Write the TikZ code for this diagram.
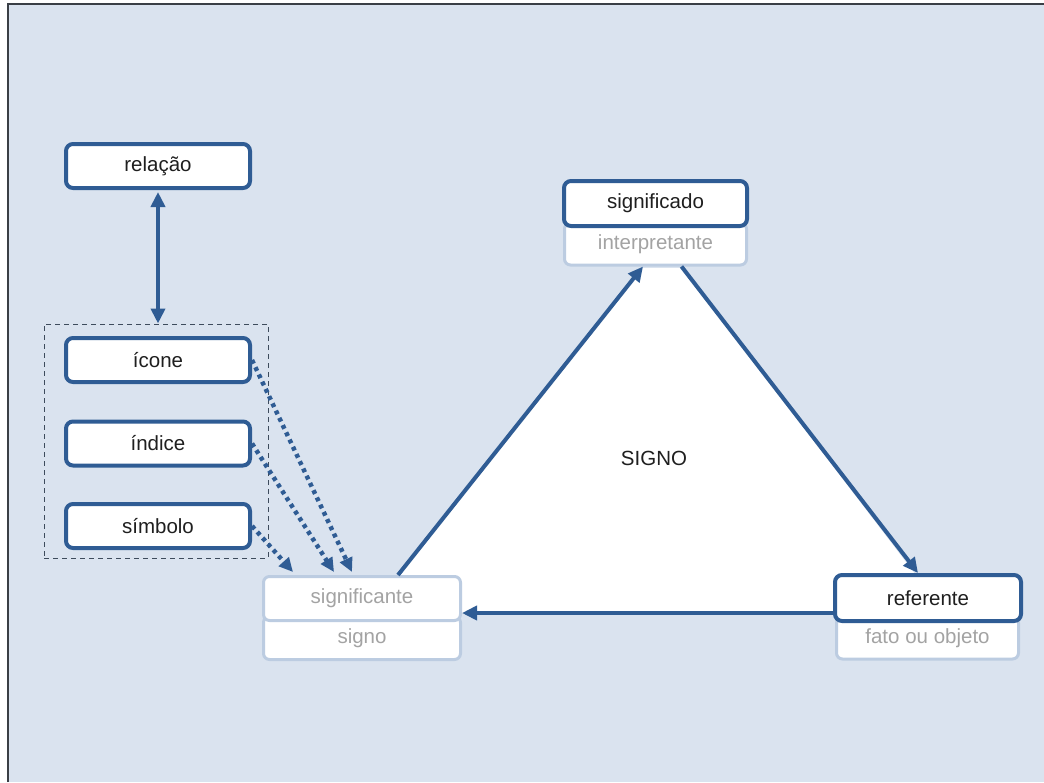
\documentclass[tikz,border=0pt]{standalone}
\usepackage{fontspec}
\setmainfont{Liberation Sans}
\usetikzlibrary{arrows.meta}
\definecolor{bgblue}{HTML}{DAE3EF}
\definecolor{navy}{HTML}{2F5C94}
\definecolor{paleedge}{HTML}{BCCCE1}
\definecolor{greytext}{HTML}{A3A3A3}
\definecolor{framegrey}{HTML}{3A3F46}
\definecolor{groupgrey}{HTML}{3D4B5C}
\begin{document}
\begin{tikzpicture}[x=1pt,y=-1pt,
  label font/.style={font=\fontsize{20.5}{24}\selectfont},
  darkbox/.style={draw=navy, line width=4pt, fill=white, rounded corners=7pt,
    minimum width=184pt, minimum height=44pt, inner sep=0pt, label font, text=black!88},
  palebox/.style={draw=paleedge, line width=3pt, fill=white, rounded corners=6pt,
    inner sep=0pt, label font, text=greytext},
  tip/.style={Triangle[length=15pt,width=14pt]},
  link/.style={draw=navy, line width=4pt, -{Triangle[length=15pt,width=14pt]}},
  twolink/.style={draw=navy, line width=4pt, {Triangle[length=15pt,width=14pt]}-{Triangle[length=15pt,width=14pt]}},
  dotlink/.style={draw=navy, line width=4.5pt, dash pattern=on 4pt off 4pt,
    -{Triangle[length=14pt,width=13pt]}},
]
% canvas and frame
\useasboundingbox (0,0) rectangle (1044,782);
\fill[white] (0,0) rectangle (1044,782);
\fill[bgblue] (8,4) rectangle (1044,782);
\draw[framegrey, line width=2pt] (8,782) -- (8,4) -- (1044,4);

% white area inside the sign triangle
\coordinate (t1) at (398,578);
\coordinate (t2) at (643,268);
\coordinate (t3) at (682,268);
\coordinate (t4) at (918,578);
\coordinate (t5) at (834,578);
\coordinate (t6) at (834,613);
\coordinate (t7) at (460,613);
\coordinate (t8) at (460,580);
\fill[white] (t1) -- (t2) -- (t3) -- (t4) -- (t5) -- (t6) -- (t7) -- (t8) -- cycle;

% lower (pale) boxes
\node[palebox, minimum width=182pt, minimum height=42pt] (interp) at (655.5,244) {interpretante};
\node[palebox, minimum width=182pt, minimum height=42pt] (fato) at (927.5,638) {fato ou objeto};
\node[palebox, minimum width=197pt, minimum height=43pt] (signo) at (362,638) {signo};
\node[palebox, minimum width=197pt, minimum height=44pt] (sgnte) at (362,598.5) {significante};

% main (dark) boxes
\node[darkbox, minimum width=183pt, minimum height=45pt] (sgdo) at (655.5,203.5) {significado};
\node[darkbox, minimum width=186pt, minimum height=46pt] (ref) at (928,598) {referente};
\node[darkbox] (rel) at (158,166) {relação};
\node[darkbox] (icone) at (158,360) {ícone};
\node[darkbox] (indice) at (158,443.5) {índice};
\node[darkbox] (simb) at (158,526) {símbolo};

% group of the three relation types
\node[draw=groupgrey, line width=1pt, dash pattern=on 5pt off 4pt,
  minimum width=224pt, minimum height=234pt, inner sep=0pt] (grp) at (156,441) {};

\node[label font, text=black!88] (signolbl) at (654,458) {SIGNO};

% connectors
\draw[twolink] ([yshift=-2pt]rel.south) -- (rel.south |- grp.north);
\draw[dotlink] (icone.east) -- ([xshift=-10pt,yshift=3pt]sgnte.north);
\draw[dotlink] (indice.east) -- ([xshift=-28pt,yshift=3pt]sgnte.north);
\draw[dotlink] (simb.east) -- ([xshift=-69pt,yshift=3pt]sgnte.north);
\draw[link] ([xshift=36pt]sgnte.north) -- ([xshift=-12.5pt]interp.south);
\draw[link] ([xshift=26pt]interp.south) -- ([xshift=-10pt]ref.north);
\draw[link] ([yshift=-15pt]ref.west) -- ([yshift=-14.5pt]sgnte.east);
\end{tikzpicture}
\end{document}
